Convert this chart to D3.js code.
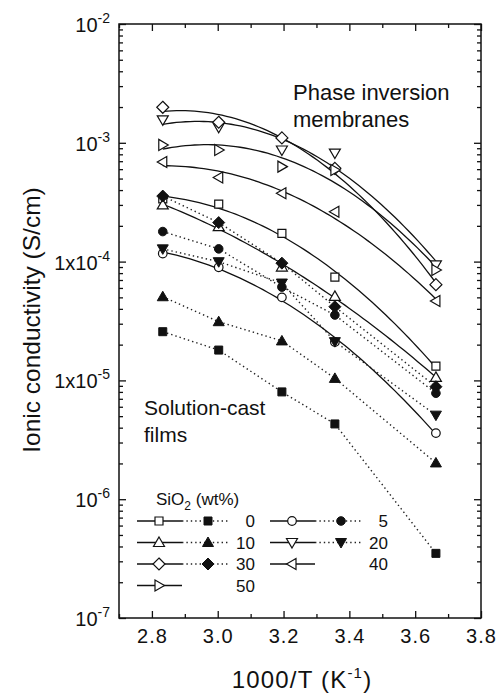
<!DOCTYPE html>
<html>
<head>
<meta charset="utf-8">
<script src="https://cdn.jsdelivr.net/npm/d3@7"></script>
<style>
body { margin: 0; background: #fff; }
text { font-family: "Liberation Sans", Arial, sans-serif; fill: #111; }
</style>
</head>
<body>
<svg id="chart" width="500" height="696"></svg>
<script>
// 1000/T values of the five measuring temperatures
var xVals = [2.833, 3.003, 3.195, 3.356, 3.663]

// phase inversion membranes (open symbols, fitted solid lines)
var memb0  = [3.37e-4, 3.05e-4, 1.73e-4, 7.4e-5, 1.32e-5]
var memb5  = [1.17e-4, 8.95e-5, 5.0e-5, 2.1e-5, 3.6e-6]
var memb10 = [3.0e-4, 1.97e-4, 9.0e-5, 5.1e-5, 1.06e-5]
var memb20 = [1.56e-3, 1.35e-3, 8.7e-4, 8.2e-4, 9.4e-5]
var memb30 = [1.99e-3, 1.49e-3, 1.10e-3, 6.1e-4, 6.4e-5]
var memb40 = [6.9e-4, 5.1e-4, 3.76e-4, 2.63e-4, 4.66e-5]
var memb50 = [9.6e-4, 8.7e-4, 6.3e-4, 5.9e-4, 8.5e-5]

// solution-cast films (filled symbols, dotted lines)
var cast0  = [2.57e-5, 1.80e-5, 8.0e-6, 4.3e-6, 3.5e-7]
var cast5  = [1.79e-4, 1.28e-4, 6.1e-5, 3.55e-5, 7.8e-6]
var cast10 = [5.06e-5, 3.12e-5, 2.15e-5, 1.04e-5, 2.02e-6]
var cast20 = [1.28e-4, 9.98e-5, 6.6e-5, 2.12e-5, 5.1e-6]
var cast30 = [3.56e-4, 2.13e-4, 9.7e-5, 4.17e-5, 8.85e-6]

var wtLabels = ["0", "5", "10", "20", "30", "40", "50"]
var shapes   = ["square", "circle", "up", "down", "diamond", "left", "right"]
var membSets = [memb0, memb5, memb10, memb20, memb30, memb40, memb50]
var castSets = [cast0, cast5, cast10, cast20, cast30, null, null]

var xTicks = [2.8, 3.0, 3.2, 3.4, 3.6, 3.8]
var yTicks = [1e-7, 1e-6, 1e-5, 1e-4, 1e-3, 1e-2]
var yTickPrefix = ["10", "10", "1x10", "1x10", "10", "10"]

var margin = { top: 24, right: 19, bottom: 78, left: 119 }
var width = 500 - margin.left - margin.right
var height = 696 - margin.top - margin.bottom

var svg = d3.select("#chart").append("g")
    .attr("transform", "translate(" + margin.left + "," + margin.top + ")")

var xScale = d3.scaleLinear().domain([2.7, 3.8]).range([0, width])
var yScale = d3.scaleLog().domain([1e-7, 1e-2]).range([height, 0])

// minor ticks
var xMinor = d3.range(2.7, 3.81, 0.1).filter(v => Math.abs(v * 5 - Math.round(v * 5)) > 0.01)
var yMinor = []
d3.range(-7, -2).forEach(e => { for (var k = 2; k <= 9; k++) yMinor.push(k * Math.pow(10, e)) })

function clean(g) { g.select(".domain").remove(); g.selectAll("line").attr("stroke", "#111").attr("stroke-width", 1.3) }

svg.append("g").attr("transform", "translate(0," + height + ")")
    .call(d3.axisBottom(xScale).tickValues(xTicks).tickSize(-7).tickPadding(11).tickFormat(d3.format(".1f")))
    .call(clean)
    .call(g => g.selectAll("text").attr("font-size", 20).attr("letter-spacing", 1)
        .style("font-family", "Liberation Sans, Arial, sans-serif").attr("fill", "#111"))
svg.append("g").attr("transform", "translate(0," + height + ")")
    .call(d3.axisBottom(xScale).tickValues(xMinor).tickSize(-4).tickFormat(""))
    .call(clean)
svg.append("g")
    .call(d3.axisTop(xScale).tickValues(xTicks).tickSize(-7).tickFormat(""))
    .call(clean)
svg.append("g")
    .call(d3.axisTop(xScale).tickValues(xMinor).tickSize(-4).tickFormat(""))
    .call(clean)

svg.append("g").call(d3.axisLeft(yScale).tickValues(yTicks).tickSize(-7).tickFormat("")).call(clean)
svg.append("g").call(d3.axisLeft(yScale).tickValues(yMinor).tickSize(-4).tickFormat("")).call(clean)
svg.append("g").attr("transform", "translate(" + width + ",0)")
    .call(d3.axisRight(yScale).tickValues(yTicks).tickSize(-7).tickFormat("")).call(clean)
svg.append("g").attr("transform", "translate(" + width + ",0)")
    .call(d3.axisRight(yScale).tickValues(yMinor).tickSize(-4).tickFormat("")).call(clean)

// y tick labels with superscripts
yTicks.forEach((v, i) => {
    var t = svg.append("text")
        .attr("x", -9)
        .attr("y", yScale(v) + 8)
        .attr("text-anchor", "end")
        .attr("font-size", 20)
    t.append("tspan").text(yTickPrefix[i])
    t.append("tspan").attr("font-size", 14).attr("dy", -9).text(String(Math.round(Math.log10(v))))
})

// frame
svg.append("rect")
    .attr("width", width).attr("height", height)
    .attr("fill", "none").attr("stroke", "#111").attr("stroke-width", 1.5)

// quadratic least squares fit of log10(sigma) against 1000/T
function quadFit(xs, ys) {
    var ly = ys.map(v => Math.log10(v))
    var A = [[0, 0, 0, 0], [0, 0, 0, 0], [0, 0, 0, 0]]
    xs.forEach((x, k) => {
        var p = [1, x, x * x]
        for (var i = 0; i < 3; i++) {
            for (var j = 0; j < 3; j++) A[i][j] += p[i] * p[j]
            A[i][3] += p[i] * ly[k]
        }
    })
    for (var i = 0; i < 3; i++) {
        for (var r = i + 1; r < 3; r++) {
            var f = A[r][i] / A[i][i]
            for (var c = i; c < 4; c++) A[r][c] -= f * A[i][c]
        }
    }
    var c = [0, 0, 0]
    for (var i = 2; i >= 0; i--) {
        var s = A[i][3]
        for (var j = i + 1; j < 3; j++) s -= A[i][j] * c[j]
        c[i] = s / A[i][i]
    }
    return x => Math.pow(10, c[0] + c[1] * x + c[2] * x * x)
}

var line = d3.line().x(d => xScale(d.x)).y(d => yScale(d.y))

// dotted lines for cast films
castSets.forEach(set => {
    if (!set) return
    svg.append("path")
        .datum(xVals.map((x, i) => ({ x: x, y: set[i] })))
        .attr("d", line)
        .attr("fill", "none").attr("stroke", "#222").attr("stroke-width", 1.4)
        .attr("stroke-dasharray", "1.4,3")
})

// fitted solid lines for membranes
membSets.forEach(set => {
    var f = quadFit(xVals, set)
    var pts = d3.range(0, 61).map(k => {
        var x = xVals[0] + (xVals[4] - xVals[0]) * k / 60
        return { x: x, y: f(x) }
    })
    svg.append("path")
        .datum(pts)
        .attr("d", line)
        .attr("fill", "none").attr("stroke", "#111").attr("stroke-width", 1.3)
})

function shapePath(s) {
    var r = 4.3
    switch (s) {
        case "square": return "M-4,-4H4V4H-4Z"
        case "circle": return "M" + r + ",0A" + r + "," + r + " 0 1,1 " + (-r) + ",0A" + r + "," + r + " 0 1,1 " + r + ",0Z"
        case "diamond": return "M0,-6L6,0L0,6L-6,0Z"
        case "up": return "M0,-5.5L5.5,4L-5.5,4Z"
        case "down": return "M0,5.5L5.5,-4L-5.5,-4Z"
        case "left": return "M-5.5,0L4,-5.5L4,5.5Z"
        case "right": return "M5.5,0L-4,-5.5L-4,5.5Z"
    }
}

membSets.forEach((set, si) => {
    svg.selectAll(".open" + si)
        .data(xVals.map((x, i) => ({ x: x, y: set[i] })))
        .enter().append("path")
        .attr("class", "open" + si)
        .attr("transform", d => "translate(" + xScale(d.x) + "," + yScale(d.y) + ")")
        .attr("d", shapePath(shapes[si]))
        .attr("fill", "#fff").attr("stroke", "#111").attr("stroke-width", 1.2)
})

castSets.forEach((set, si) => {
    if (!set) return
    svg.selectAll(".fill" + si)
        .data(xVals.map((x, i) => ({ x: x, y: set[i] })))
        .enter().append("path")
        .attr("class", "fill" + si)
        .attr("transform", d => "translate(" + xScale(d.x) + "," + yScale(d.y) + ")")
        .attr("d", shapePath(shapes[si]))
        .attr("fill", "#111").attr("stroke", "#111").attr("stroke-width", 1)
})

// annotations
svg.append("text").attr("x", 293 - margin.left).attr("y", 100 - margin.top).attr("font-size", 22).text("Phase inversion")
svg.append("text").attr("x", 293 - margin.left).attr("y", 127 - margin.top).attr("font-size", 22).text("membranes")
svg.append("text").attr("x", 144 - margin.left).attr("y", 415 - margin.top).attr("font-size", 21).text("Solution-cast")
svg.append("text").attr("x", 144 - margin.left).attr("y", 442 - margin.top).attr("font-size", 21).text("films")

// legend
var lg = svg.append("g").attr("transform", "translate(" + (137 - margin.left) + "," + (521 - margin.top) + ")")
var lt = lg.append("text").attr("x", 19).attr("y", -16).attr("font-size", 17)
lt.append("tspan").text("SiO")
lt.append("tspan").attr("font-size", 12).attr("dy", 5).text("2")
lt.append("tspan").attr("dy", -5).text(" (wt%)")

wtLabels.forEach((lab, i) => {
    var g = lg.append("g").attr("transform", "translate(" + (i % 2) * 133 + "," + Math.floor(i / 2) * 21.5 + ")")
    g.append("line").attr("x1", 0).attr("x2", 45).attr("stroke", "#111").attr("stroke-width", 1.3)
    if (castSets[i]) {
        g.append("line").attr("x1", 45).attr("x2", 93)
            .attr("stroke", "#222").attr("stroke-width", 1.4).attr("stroke-dasharray", "1.4,3")
        g.append("path").attr("transform", "translate(71,0)").attr("d", shapePath(shapes[i]))
            .attr("fill", "#111").attr("stroke", "#111")
    }
    g.append("path").attr("transform", "translate(22,0)").attr("d", shapePath(shapes[i]))
        .attr("fill", "#fff").attr("stroke", "#111").attr("stroke-width", 1.2)
    g.append("text").attr("x", 118).attr("y", 6).attr("text-anchor", "end").attr("font-size", 17).text(lab)
})

// axis titles
svg.append("text")
    .attr("x", 302 - margin.left).attr("y", 688 - margin.top)
    .attr("text-anchor", "middle").attr("font-size", 24).attr("letter-spacing", 1.2)
    .call(t => {
        t.append("tspan").text("1000/T (K")
        t.append("tspan").attr("font-size", 15).attr("dy", -10).text("-1")
        t.append("tspan").attr("dy", 10).text(")")
    })
svg.append("text")
    .attr("transform", "translate(" + (40 - margin.left) + "," + (320 - margin.top) + ") rotate(-90)")
    .attr("text-anchor", "middle").attr("font-size", 24.5)
    .text("Ionic conductivity (S/cm)")
</script>
</body>
</html>
